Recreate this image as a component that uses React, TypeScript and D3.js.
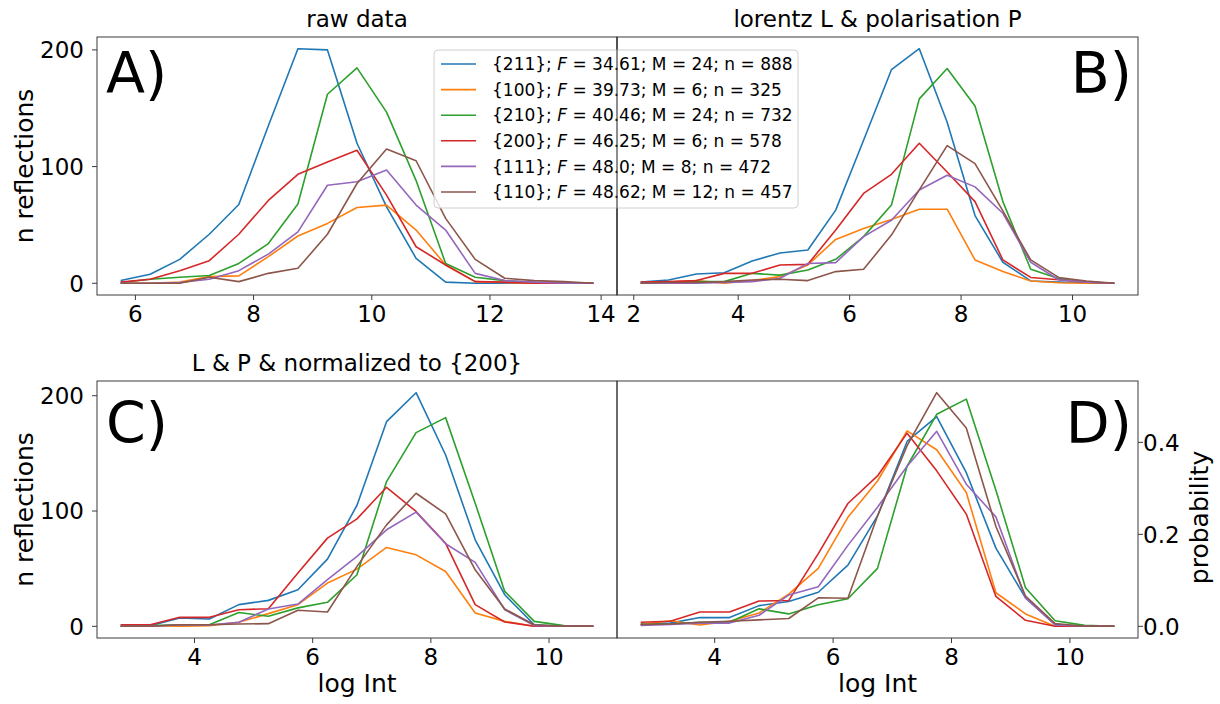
import React from "react";
import * as d3 from "d3";

// ---------- data ----------
const hkl = ["{211}", "{100}", "{210}", "{200}", "{111}", "{110}"];
const fValues = ["34.61", "39.73", "40.46", "46.25", "48.0", "48.62"];
const mValues = [24, 6, 24, 6, 8, 12];
const nValues = [888, 325, 732, 578, 472, 457];

const xRaw = [5.75, 6.25, 6.75, 7.25, 7.75, 8.25, 8.75, 9.25, 9.75, 10.25, 10.75, 11.25, 11.75, 12.25, 12.75, 13.25, 13.75];
const xLP = [2.25, 2.75, 3.25, 3.75, 4.25, 4.75, 5.25, 5.75, 6.25, 6.75, 7.25, 7.75, 8.25, 8.75, 9.25, 9.75, 10.25, 10.75];
const xNorm = [2.75, 3.25, 3.75, 4.25, 4.75, 5.25, 5.75, 6.25, 6.75, 7.25, 7.75, 8.25, 8.75, 9.25, 9.75, 10.25, 10.75];

// A) raw data
const rawData = [
  [2.3, 7.7, 20.5, 42, 67.5, 135, 201, 200, 120, 65.5, 21.4, 1, 0, 0, 0, 0, 0],
  [0, 0, 1, 5.7, 6.3, 22.8, 40.5, 51.3, 65, 67, 45.6, 15.7, 1.4, 0.6, 0, 0, 0],
  [0.6, 3.4, 5.1, 6.6, 17, 34, 68, 162, 184.6, 146.7, 88, 17, 5.1, 2.3, 0.6, 0, 0],
  [1, 3.4, 10.8, 19.4, 42, 71, 93.4, 104, 114, 75.5, 31.3, 15.7, 1.4, 1, 0, 0, 0],
  [0, 0, 0.6, 3.4, 10.8, 25, 44, 84, 87, 97, 67, 45.6, 8.5, 2.3, 1, 0, 0],
  [0, 0, 0, 5.1, 1.4, 8.5, 12.8, 42, 85.5, 115, 105, 55.6, 20.5, 4.3, 2.3, 1.4, 0],
];

// B) lorentz & polarisation
const lpData = [
  [1, 2.8, 8, 9, 19, 26, 28.5, 62.7, 122.5, 183, 201, 138, 58, 18, 2, 1, 0.5, 0],
  [0, 1, 2.3, 0, 2.3, 5.7, 15.7, 37.6, 47, 54.7, 63.5, 63.5, 20, 10, 2, 0.5, 0, 0],
  [0, 1, 1.4, 1.4, 8.5, 7, 11.4, 20.5, 40, 67, 158, 184, 152, 70, 12, 4, 1, 0],
  [1, 1.4, 2.3, 8.5, 8.5, 15.7, 16.2, 45.6, 77, 93.4, 120, 95.4, 70, 20, 5, 3, 1, 0],
  [0, 0, 0, 0.6, 1.4, 4.3, 17, 17.7, 40, 54, 80, 92.6, 82.6, 60, 18, 3, 1, 0],
  [0, 0.6, 0.6, 1.4, 2.8, 3.4, 2.3, 10, 12, 41.3, 80, 118, 102.6, 62, 20, 5, 2, 0],
];

// C) L & P & normalized to {200}
const normData = [
  [0.6, 0.6, 7.2, 6.3, 18.8, 22.5, 31.7, 58.3, 105, 177.5, 202.6, 148.6, 75, 27.4, 1.4, 0, 0],
  [0, 0.6, 0, 0.6, 3.5, 11, 18.8, 37.5, 49.6, 68.4, 62, 47.6, 11.5, 4.3, 0, 0, 0],
  [0, 0.6, 1.4, 1.4, 12, 8.7, 16, 20.8, 44.7, 125.5, 168, 181, 106.8, 30.3, 4.3, 0.6, 0],
  [1.4, 1.4, 7.8, 7.8, 14.4, 15.3, 46.2, 76.5, 93.2, 120.6, 99.6, 72, 18.8, 3.8, 0, 0, 0],
  [0, 0, 1.2, 1.2, 3.5, 15, 19.3, 40.4, 60.6, 83.7, 99, 71.6, 55.4, 14.4, 0.6, 0, 0],
  [0, 0, 1.4, 1.4, 2, 2.3, 13.9, 12.4, 52, 88, 115.4, 97.5, 49, 15, 1.4, 0, 0],
];

// D) probability
const probData = [
  [0.005, 0.007, 0.019, 0.019, 0.045, 0.054, 0.074, 0.133, 0.24, 0.402, 0.456, 0.334, 0.17, 0.062, 0.004, 0, 0],
  [0.004, 0.012, 0.003, 0.011, 0.029, 0.07, 0.126, 0.237, 0.316, 0.425, 0.384, 0.291, 0.073, 0.027, 0, 0, 0],
  [0.004, 0.005, 0.009, 0.009, 0.038, 0.027, 0.047, 0.06, 0.126, 0.348, 0.461, 0.494, 0.296, 0.084, 0.012, 0.002, 0],
  [0.009, 0.011, 0.031, 0.031, 0.055, 0.056, 0.158, 0.267, 0.327, 0.42, 0.338, 0.244, 0.065, 0.013, 0, 0, 0],
  [0.002, 0.004, 0.007, 0.007, 0.024, 0.068, 0.086, 0.176, 0.259, 0.348, 0.424, 0.309, 0.238, 0.062, 0.003, 0, 0],
  [0.004, 0.005, 0.009, 0.011, 0.014, 0.017, 0.062, 0.061, 0.24, 0.393, 0.508, 0.431, 0.217, 0.066, 0.006, 0, 0],
];

const ticksRawX = [6, 8, 10, 12, 14];
const ticksLPX = [2, 4, 6, 8, 10];
const ticksNormX = [4, 6, 8, 10];
const ticksCount = [0, 100, 200];
const ticksProb = [0, 0.2, 0.4];

// ---------- style ----------
const COLORS = ["#1f77b4", "#ff7f0e", "#2ca02c", "#d62728", "#9467bd", "#8c564b"];
const FONT = "DejaVu Sans, Verdana, sans-serif";
const TICK_FS = 23;
const LABEL_FS = 25;
const SPINE = "#3a3a3a";

type PanelProps = {
  x0: number; x1: number; y0: number; y1: number;
  xDomain: [number, number]; yDomain: [number, number];
  xs: number[]; series: number[][];
  xTicks: number[]; yTicks?: number[]; ySide?: "left" | "right" | "none";
  yFormat?: (v: number) => string;
  edgeTickShift?: Record<number, number>;
  title?: string; letter: string; letterSide: "left" | "right"; letterDy: number;
  xLabel?: string; yLabel?: string;
};

function Panel(p: PanelProps) {
  const x = d3.scaleLinear().domain(p.xDomain).range([p.x0, p.x1]);
  const y = d3.scaleLinear().domain(p.yDomain).range([p.y1, p.y0]);
  const line = d3.line<number>().x((_, i) => x(p.xs[i])).y((d) => y(d));
  const clipId = "clip" + p.letter.replace(")", "");
  const fmt = p.yFormat || ((v: number) => String(v));
  const cx = (p.x0 + p.x1) / 2;
  const cy = (p.y0 + p.y1) / 2;
  const tx = (t: number) => x(t) + ((p.edgeTickShift && p.edgeTickShift[t]) || 0);
  return (
    <g>
      <defs>
        <clipPath id={clipId}>
          <rect x={p.x0} y={p.y0} width={p.x1 - p.x0} height={p.y1 - p.y0} />
        </clipPath>
      </defs>
      <g clipPath={`url(#${clipId})`}>
        {p.series.map((s, i) => (
          <path key={i} d={line(s) || ""} fill="none" stroke={COLORS[i]} strokeWidth={1.6} strokeLinejoin="round" />
        ))}
      </g>
      <rect x={p.x0} y={p.y0} width={p.x1 - p.x0} height={p.y1 - p.y0} fill="none" stroke={SPINE} strokeWidth={1} />
      {p.xTicks.map((t) => (
        <g key={"xt" + t}>
          <line x1={tx(t)} x2={tx(t)} y1={p.y1} y2={p.y1 + 5} stroke={SPINE} strokeWidth={1} />
          <text x={tx(t)} y={p.y1 + 27} textAnchor="middle" fontSize={TICK_FS} fontFamily={FONT}>{t}</text>
        </g>
      ))}
      {p.yTicks && p.ySide === "left" && p.yTicks.map((t) => (
        <g key={"yt" + t}>
          <line x1={p.x0 - 5} x2={p.x0} y1={y(t)} y2={y(t)} stroke={SPINE} strokeWidth={1} />
          <text x={p.x0 - 13} y={y(t)} dy="0.36em" textAnchor="end" fontSize={TICK_FS} fontFamily={FONT}>{fmt(t)}</text>
        </g>
      ))}
      {p.yTicks && p.ySide === "right" && p.yTicks.map((t) => (
        <g key={"yt" + t}>
          <line x1={p.x1} x2={p.x1 + 5} y1={y(t)} y2={y(t)} stroke={SPINE} strokeWidth={1} />
          <text x={p.x1 + 5} y={y(t)} dy="0.36em" textAnchor="start" fontSize={TICK_FS} fontFamily={FONT}>{fmt(t)}</text>
        </g>
      ))}
      {p.title && (
        <text x={cx} y={p.y0 - 10} textAnchor="middle" fontSize={TICK_FS} fontFamily={FONT}>{p.title}</text>
      )}
      {p.xLabel && (
        <text x={cx} y={p.y1 + 54} textAnchor="middle" fontSize={LABEL_FS} fontFamily={FONT}>{p.xLabel}</text>
      )}
      {p.yLabel && p.ySide === "left" && (
        <text transform={`translate(${p.x0 - 64},${cy}) rotate(-90)`} textAnchor="middle" fontSize={LABEL_FS} fontFamily={FONT}>{p.yLabel}</text>
      )}
      {p.yLabel && p.ySide === "right" && (
        <text transform={`translate(${p.x1 + 70},${cy + 8}) rotate(-90)`} textAnchor="middle" fontSize={LABEL_FS} fontFamily={FONT}>{p.yLabel}</text>
      )}
      <text
        x={p.letterSide === "left" ? p.x0 + 9 : p.x1 - 6}
        y={p.y0 + p.letterDy}
        textAnchor={p.letterSide === "left" ? "start" : "end"}
        fontSize={57}
        fontFamily={FONT}
      >{p.letter}</text>
    </g>
  );
}

function Legend({ x, y }: { x: number; y: number }) {
  const rowH = 25.6;
  return (
    <g>
      <rect x={x} y={y} width={364} height={158} rx={4} fill="white" fillOpacity={0.8} stroke="#d0d0d0" strokeWidth={1} />
      {hkl.map((h, i) => {
        const cy = y + 14 + i * rowH;
        return (
          <g key={h}>
            <line x1={x + 7} x2={x + 42} y1={cy} y2={cy} stroke={COLORS[i]} strokeWidth={1.6} />
            <text x={x + 58} y={cy} dy="0.36em" fontSize={17} fontFamily={FONT}>
              {h};<tspan fontStyle="italic"> F</tspan>{` = ${fValues[i]}; M = ${mValues[i]}; n = ${nValues[i]}`}
            </text>
          </g>
        );
      })}
    </g>
  );
}

export default function App() {
  const top = { y0: 37, y1: 295 };
  const bot = { y0: 381, y1: 638 };
  return (
    <svg width={1220} height={704} style={{ display: "block", position: "absolute", left: 0, top: 0 }}>
      <rect width={1220} height={704} fill="white" />
      <Panel
        x0={97} x1={617} {...top}
        xDomain={[5.35, 14.15]} yDomain={[-10.05, 211.05]}
        xs={xRaw} series={rawData}
        xTicks={ticksRawX} yTicks={ticksCount} ySide="left"
        edgeTickShift={{ 14: -7 }}
        title="raw data" letter="A)" letterSide="left" letterDy={56}
        yLabel="n reflections"
      />
      <Panel
        x0={617} x1={1138} {...top}
        xDomain={[1.825, 11.175]} yDomain={[-10.05, 211.05]}
        xs={xLP} series={lpData}
        xTicks={ticksLPX} ySide="none"
        edgeTickShift={{ 2: 7 }}
        title="lorentz L & polarisation P" letter="B)" letterSide="right" letterDy={56}
      />
      <Legend x={434} y={50} />
      <line x1={617} x2={617} y1={top.y0} y2={top.y1} stroke={SPINE} strokeWidth={1} />
      <Panel
        x0={97} x1={617} {...bot}
        xDomain={[2.35, 11.15]} yDomain={[-10.13, 212.76]}
        xs={xNorm} series={normData}
        xTicks={ticksNormX} yTicks={ticksCount} ySide="left"
        title="L & P & normalized to {200}" letter="C)" letterSide="left" letterDy={62}
        xLabel="log Int" yLabel="n reflections"
      />
      <Panel
        x0={617} x1={1138} {...bot}
        xDomain={[2.35, 11.15]} yDomain={[-0.0254, 0.5334]}
        xs={xNorm} series={probData}
        xTicks={ticksNormX} yTicks={ticksProb} ySide="right" yFormat={(v) => v.toFixed(1)}
        letter="D)" letterSide="right" letterDy={62}
        xLabel="log Int" yLabel="probability"
      />
    </svg>
  );
}
